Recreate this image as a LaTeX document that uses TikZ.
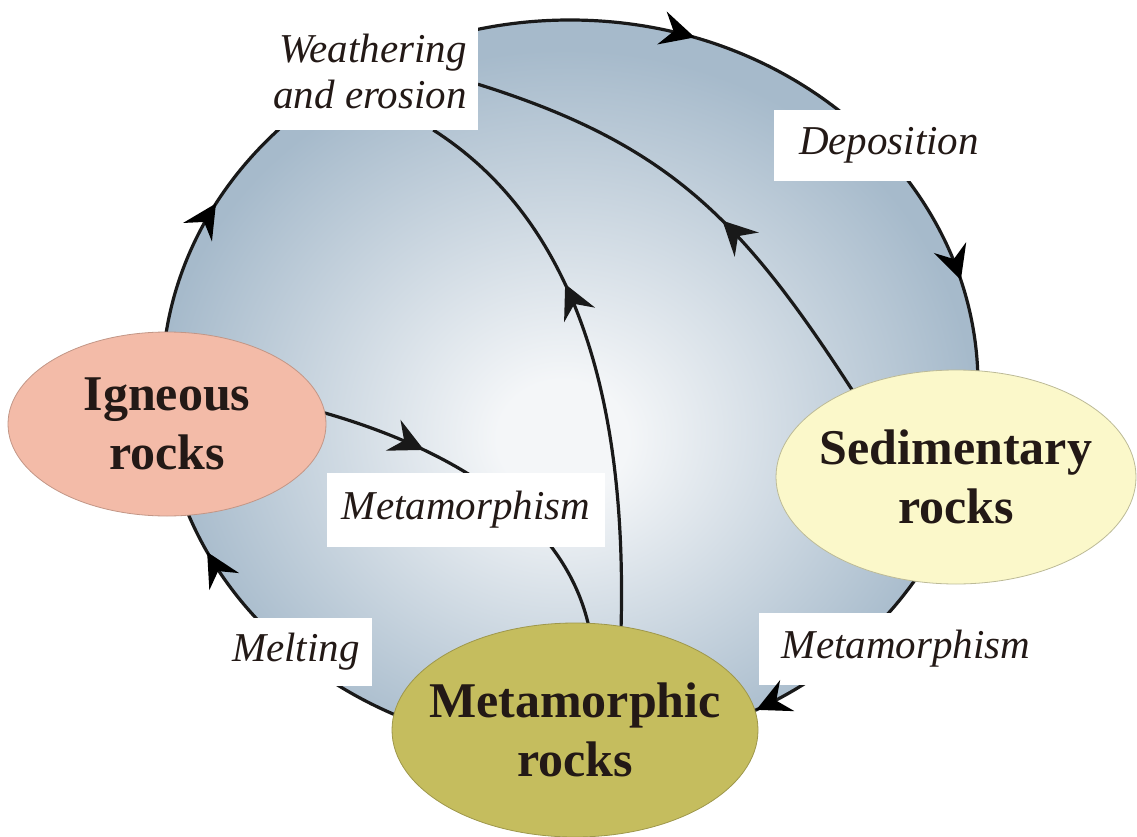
\documentclass[tikz,border=0pt]{standalone}
\usepackage{fontspec}
\setmainfont{Liberation Serif}
\usetikzlibrary{shapes.geometric,arrows.meta,decorations.markings,backgrounds}
\definecolor{glowcore}{RGB}{244,246,248}
\definecolor{glowedge}{RGB}{166,186,203}
\definecolor{ignfill}{RGB}{243,187,168}
\definecolor{sedfill}{RGB}{251,248,202}
\definecolor{metfill}{RGB}{197,189,94}
\definecolor{inktext}{RGB}{35,25,22}
\pgfdeclareradialshading{rockglow}{\pgfpoint{-0.5bp}{-4bp}}{color(0bp)=(glowcore); color(4bp)=(glowcore); color(25bp)=(glowedge); color(50bp)=(glowedge)}

\begin{document}
\begin{tikzpicture}[x=1pt,y=-1pt,
    every node/.style={text=inktext},
    barb/.tip={Stealth[length=34pt,width=34pt,inset=12pt]},
    rock/.style={ellipse, inner xsep=-60pt, inner ysep=0pt, outer sep=0pt, line width=0.8pt,
        align=center, font=\bfseries\fontsize{50}{59}\selectfont},
    tag/.style={fill=white, inner sep=0pt, outer sep=0pt, font=\itshape\fontsize{41}{46}\selectfont},
    flow/.style={line width=3.2pt, draw=black!90},
    midarrow/.style={postaction={decorate}, decoration={markings, mark=at position #1 with {\arrow{barb}}}}]
    \useasboundingbox (0,0) rectangle (1137,837);
    \coordinate (ctr) at (570,385);
    % process labels
    \node[tag, minimum width=216pt, minimum height=118pt, align=right] (weather) at (370,71) {Weathering\\and erosion};
    \node[tag, minimum width=230pt, minimum height=71pt] (depo) at (889,145.5) {Deposition};
    \node[tag, minimum width=278pt, minimum height=74pt] (metaA) at (466,510) {Metamorphism};
    \node[tag, minimum width=152pt, minimum height=68pt] (melt) at (296,652) {Melting};
    \node[tag, minimum width=294pt, minimum height=72pt] (metaB) at (906,649) {Metamorphism};
    % rock types
    \node[rock, fill=ignfill, draw=ignfill!80!black, minimum width=318pt, minimum height=184pt] (ign) at (167,424) {Igneous\\rocks};
    \node[rock, fill=sedfill, draw=sedfill!75!black, minimum width=360pt, minimum height=214pt] (sed) at (956,477) {Sedimentary\\rocks};
    \node[rock, fill=metfill, draw=metfill!80!black, minimum width=366pt, minimum height=214pt] (met) at (575,730) {Metamorphic\\rocks};
    \begin{pgfonlayer}{background}
        \shade[shading=rockglow] (ctr) ellipse [x radius=408, y radius=365];
        \draw[flow] (ctr) ellipse [x radius=408, y radius=365];
        \draw[flow, midarrow=0.63] (met.66) .. controls (626,430) and (590,230) .. (weather.-43);
        \draw[flow, midarrow=0.43] (sed.140) .. controls (742,220) and (669,144) .. (weather.-7.4);
        \draw[flow, midarrow=0.30] (ign.4) .. controls (450,449) and (562,515) .. (met.83);
    \end{pgfonlayer}
    % arrows of the outer cycle
    \path[line width=3.2pt, postaction={decorate}, decoration={markings,
        mark=at position 0.171 with {\arrow{barb}},
        mark=at position 0.428 with {\arrow{barb}},
        mark=at position 0.579 with {\arrow{barb}},
        mark=at position 0.802 with {\arrow{barb}},
        mark=at position 0.956 with {\arrow{barb}}}] (ctr) ellipse [x radius=408, y radius=365];
\end{tikzpicture}
\end{document}
